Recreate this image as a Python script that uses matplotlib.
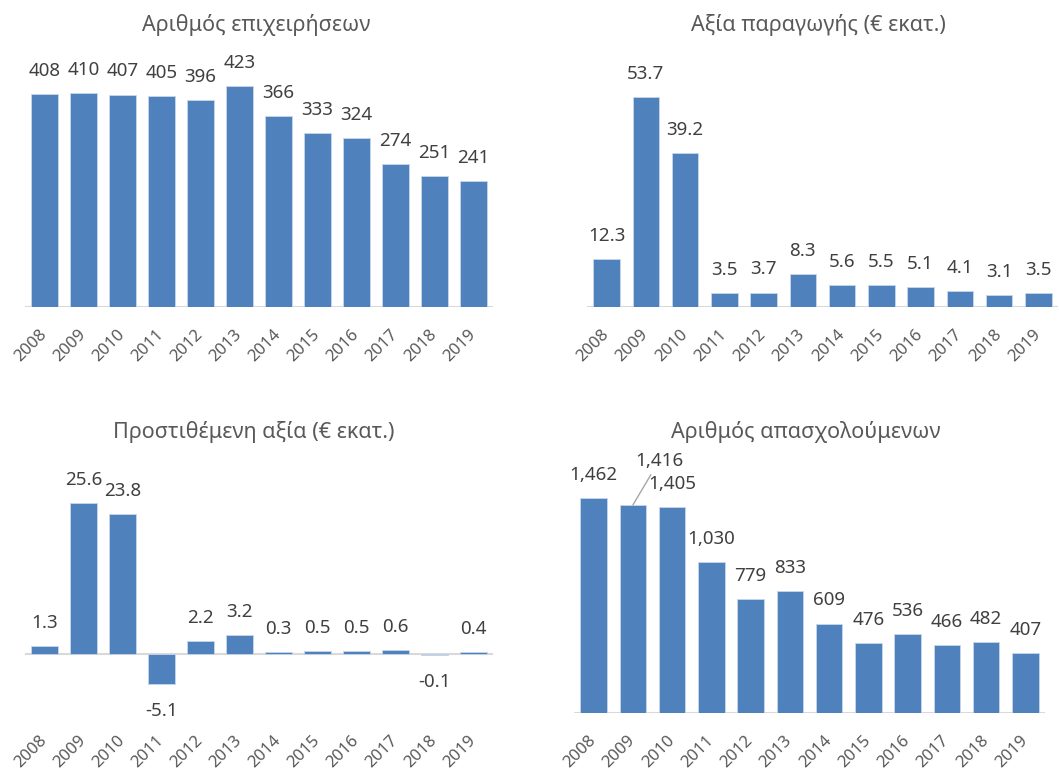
import matplotlib
matplotlib.use('Agg')
import matplotlib.pyplot as plt

plt.rcParams['font.family'] = ['Noto Sans', 'DejaVu Sans']

years = ['2008', '2009', '2010', '2011', '2012', '2013',
         '2014', '2015', '2016', '2017', '2018', '2019']
firms = [408, 410, 407, 405, 396, 423, 366, 333, 324, 274, 251, 241]
production = [12.3, 53.7, 39.2, 3.5, 3.7, 8.3, 5.6, 5.5, 5.1, 4.1, 3.1, 3.5]
value_added = [1.3, 25.6, 23.8, -5.1, 2.2, 3.2, 0.3, 0.5, 0.5, 0.6, -0.1, 0.4]
employees = [1462, 1416, 1405, 1030, 779, 833, 609, 476, 536, 466, 482, 407]

titles = ['Αριθμός επιχειρήσεων', 'Αξία παραγωγής (€ εκατ.)',
          'Προστιθέμενη αξία (€ εκατ.)', 'Αριθμός απασχολούμενων']

BAR = '#4F81BD'
AXIS = '#D9D9D9'
TXT = '#404040'
TITLE = '#595959'

W, H = 1059, 771
fig = plt.figure(figsize=(W / 100, H / 100), dpi=100)


def add_ax(l, r, top, bottom):
    return fig.add_axes([l / W, 1 - bottom / H, (r - l) / W, (bottom - top) / H])


def style(ax, ylim):
    x = range(len(years))
    ax.set_xlim(-0.5, len(years) - 0.5)
    ax.set_ylim(*ylim)
    ax.set_yticks([])
    for s in ['top', 'right', 'left', 'bottom']:
        ax.spines[s].set_visible(False)
    ax.axhline(0, color=AXIS, linewidth=1.5, zorder=1)
    ax.set_xticks(list(x))
    ax.set_xticklabels(years, rotation=45, ha='right', rotation_mode='anchor',
                       va='center', fontsize=12, color=TITLE)
    ax.tick_params(axis='x', length=0, pad=18)
    ax.patch.set_alpha(0)


def bars(ax, vals, fmt, skip=()):
    x = range(len(vals))
    ax.bar(x, vals, width=0.67, color=BAR, edgecolor='#C9D7EA', linewidth=0.6, zorder=2)
    for i, v in enumerate(vals):
        if i in skip:
            continue
        if v >= 0:
            ax.annotate(fmt(v), (i, v), xytext=(0, 13), textcoords='offset points',
                        ha='center', va='baseline', fontsize=13.5, color=TXT)
        else:
            ax.annotate(fmt(v), (i, v), xytext=(0, -13), textcoords='offset points',
                        ha='center', va='top', fontsize=13.5, color=TXT)


# top left
ax1 = add_ax(25, 493, 46, 307)
style(ax1, (0, 500))
bars(ax1, firms, lambda v: f'{v:d}')

# top right
ax2 = add_ax(587, 1058, 72, 307)
style(ax2, (0, 60))
bars(ax2, production, lambda v: f'{v:.1f}')

# bottom left
ax3 = add_ax(25, 493, 477, 713)
style(ax3, (-10, 30))
bars(ax3, value_added, lambda v: f'{v:.1f}')

# bottom right
ax4 = add_ax(574, 1045, 478, 713)
style(ax4, (0, 1600))
bars(ax4, employees, lambda v: f'{v:,}', skip=(1,))
ax4.annotate(f'{employees[1]:,}', (1, employees[1]), xytext=(19, 32),
             textcoords='offset points', ha='center', va='center',
             fontsize=13.5, color=TXT,
             arrowprops=dict(arrowstyle='-', color='#A6A6A6', lw=1,
                             shrinkA=2, shrinkB=0))

# titles
for t, (cx, cy) in zip(titles, [(256, 25), (818, 25), (254, 432), (806, 432)]):
    fig.text(cx / W, 1 - cy / H, t, ha='center', va='center', fontsize=15.5, color=TITLE)

fig.savefig('out.png', dpi=100)
